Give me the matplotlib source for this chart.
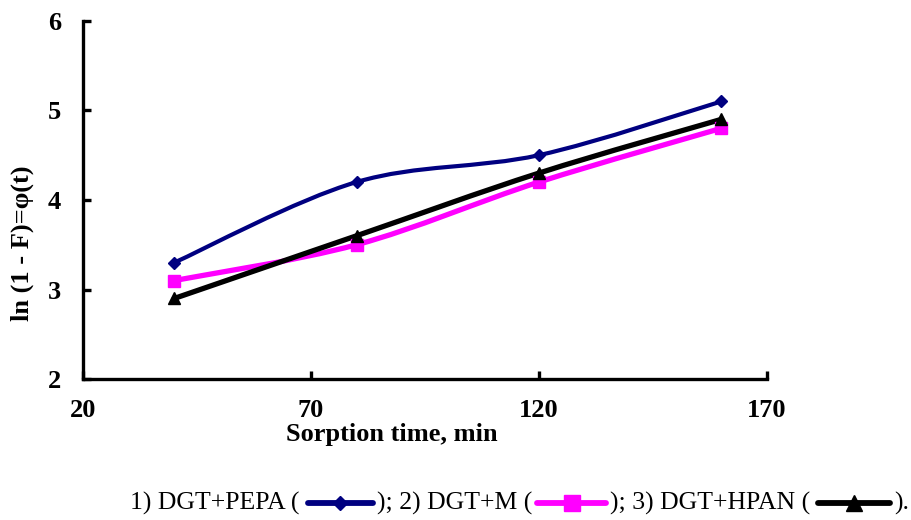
import matplotlib.pyplot as plt
import numpy as np
from matplotlib.path import Path
from matplotlib.patches import PathPatch
from matplotlib.lines import Line2D

plt.rcParams['font.family'] = ['Liberation Serif', 'DejaVu Serif']

# sorption time, min
time = [40, 80, 120, 160]

# ln(1 - F) for each sorbent
pepa = [3.3, 4.2, 4.5, 5.1]
dgt_m = [3.1, 3.5, 4.2, 4.8]
hpan = [2.9, 3.6, 4.3, 4.9]

x_ticks = [20, 70, 120, 170]
y_ticks = [2, 3, 4, 5, 6]

legend_parts = ['1) DGT+PEPA (', '); 2) DGT+M (', '); 3) DGT+HPAN (', ').']

series = [
    (pepa, '#000080', 'D', 6, 3.0),
    (dgt_m, '#ff00ff', 's', 8, 3.8),
    (hpan, '#000000', '^', 8, 3.8),
]


def smooth_path(xs, ys):
    # Catmull-Rom style bezier through the points (like a spreadsheet "smoothed line")
    pts = np.column_stack([xs, ys]).astype(float)
    n = len(pts)
    verts = [pts[0]]
    codes = [Path.MOVETO]
    for i in range(n - 1):
        p0 = pts[max(i - 1, 0)]
        p1 = pts[i]
        p2 = pts[i + 1]
        p3 = pts[min(i + 2, n - 1)]
        c1 = p1 + (p2 - p0) / 6
        c2 = p2 - (p3 - p1) / 6
        verts += [c1, c2, p2]
        codes += [Path.CURVE4] * 3
    return Path(verts, codes)


fig = plt.figure(figsize=(9.12, 5.2), dpi=100)
ax = fig.add_axes([0.091, 0.271, 0.75, 0.689])

for ys, color, marker, ms, lw in series:
    ax.add_patch(PathPatch(smooth_path(time, ys), facecolor='none',
                           edgecolor=color, lw=lw, capstyle='round', zorder=2))
    ax.plot(time, ys, linestyle='none', marker=marker, color=color,
            markersize=ms, zorder=3)

ax.set_xlim(20, 170)
ax.set_ylim(2, 6)
ax.set_xticks(x_ticks)
ax.set_yticks(y_ticks)
for side in ['top', 'right']:
    ax.spines[side].set_visible(False)
for side in ['left', 'bottom']:
    ax.spines[side].set_linewidth(2.4)
ax.tick_params(direction='in', length=6, width=2.4, labelsize=19)
ax.tick_params(axis='y', pad=16)
ax.tick_params(axis='x', pad=14)
for t in ax.get_xticklabels() + ax.get_yticklabels():
    t.set_fontweight('bold')

ax.set_xlabel('Sorption time, min', fontsize=19, fontweight='bold')
ax.xaxis.label.set_va('center')
ax.xaxis.set_label_coords(0.452, -0.155)
ax.set_ylabel('ln (1 - F)=φ(t)', fontsize=19, fontweight='bold')
ax.yaxis.label.set_va('center')
ax.yaxis.set_label_coords(-0.089, 0.38)

# legend line under the chart: text pieces with short line samples between them
W, H = 912, 520
y_fig = 1 - 503 / H
text_x = [130, 377, 610, 894]
sample_x = [(308, 373), (537, 606), (818, 890)]
sample_ms = [7, 11, 11]

for part, x in zip(legend_parts, text_x):
    fig.text(x / W, y_fig, part, fontsize=18.5, va='center', ha='left')

for (ys, color, marker, ms, lw), (x0, x1), sms in zip(series, sample_x, sample_ms):
    fig.add_artist(Line2D([x0 / W, x1 / W], [y_fig, y_fig], color=color,
                          lw=4.2, solid_capstyle='round',
                          transform=fig.transFigure))
    fig.add_artist(Line2D([(x0 + x1) / 2 / W], [y_fig], color=color,
                          marker=marker, markersize=sms, linestyle='none',
                          transform=fig.transFigure))

fig.savefig('out.png', dpi=100)
